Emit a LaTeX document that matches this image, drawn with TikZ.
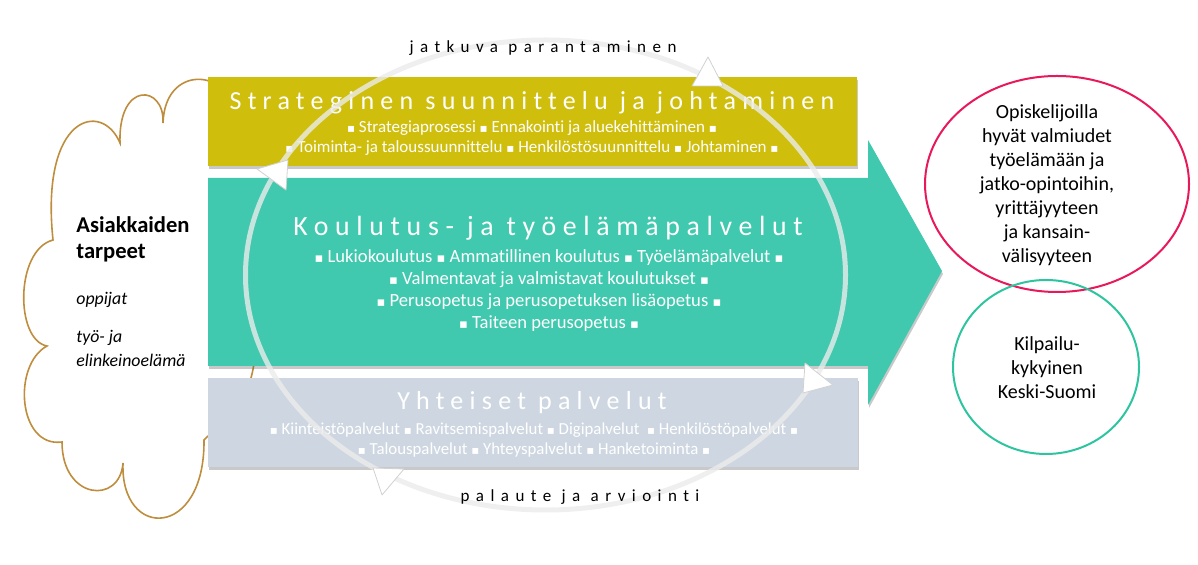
\documentclass[tikz,border=0pt]{standalone}
\usepackage{fontspec}
\usepackage{graphicx}
\setmainfont{Carlito}[Ligatures=NoCommon]
\newfontfamily\spacedfont{Carlito}[LetterSpace=24, Ligatures=NoCommon]
\newfontfamily\widefont{Carlito}[LetterSpace=38, Ligatures=NoCommon]
\newfontfamily\symfont{DejaVu Sans}
\usetikzlibrary{shadows}
\definecolor{stratyellow}{RGB}{208,190,12}
\definecolor{eduteal}{RGB}{64,201,174}
\definecolor{commongray}{RGB}{206,215,225}
\definecolor{cloudbrown}{RGB}{190,142,62}
\definecolor{goalpink}{RGB}{232,25,90}
\definecolor{goalteal}{RGB}{46,196,160}
\newcommand\sq{{\symfont\scalebox{0.7}{▪}}}
\tikzset{
  boxshadow/.style={drop shadow={shadow xshift=0.5pt, shadow yshift=-1.5pt, opacity=0.3, fill=black!70}},
  titletext/.style={text=white, font=\spacedfont\fontsize{13}{15}\selectfont, inner sep=0pt},
  itemtext/.style={text=white, align=center, inner sep=0pt},
  looptext/.style={text=black, font=\widefont\fontsize{8.5}{10}\selectfont, inner sep=0pt},
  ringline/.style={draw=white!92!black, opacity=0.8, line width=2.5pt},
  ringtip/.style={fill=white, draw=black!18, line width=0.4pt, line join=round},
  needtext/.style={anchor=west, inner sep=0pt, text=black},
  goaltext/.style={align=center, inner sep=0pt, text=black, font=\fontsize{10}{12}\selectfont},
}
\begin{document}
\begin{tikzpicture}[x=0.5pt, y=-0.5pt]
\useasboundingbox (0,0) rectangle (1198,565);

% cloud of customer needs
\path[fill=white, draw=cloudbrown, line width=0.8pt]
  (232,110) .. controls (228,70) and (165,64) .. (163,123)
  .. controls (165,85) and (118,80) .. (120,143)
  .. controls (102,100) and (40,115) .. (53,240)
  .. controls (15,250) and (15,340) .. (47,346)
  .. controls (12,365) and (18,448) .. (62,442)
  .. controls (62,500) and (120,505) .. (123,463)
  .. controls (120,540) and (205,540) .. (204,440)
  .. controls (240,405) and (256,395) .. (256,330)
  .. controls (262,260) and (272,200) .. (272,175)
  .. controls (272,150) and (250,120) .. cycle;

% process boxes
\path[fill=stratyellow, boxshadow] (208,77) rectangle (857,166);
\path[fill=eduteal, boxshadow] (208,178) -- (868,178) -- (868,140) -- (942,271)
  -- (868,405) -- (868,366) -- (208,366) -- cycle;
\path[fill=commongray, boxshadow] (208,378) rectangle (858,467);

% texts in boxes
\node[titletext] (strat) at (532,103) {Strateginen suunnittelu ja johtaminen};
\node[itemtext, font=\fontsize{8.5}{10}\selectfont] (stratitems) at (532,138)
  {\sq{} Strategiaprosessi \sq{} Ennakointi ja aluekehittäminen \sq\\
   \sq{} Toiminta- ja taloussuunnittelu \sq{} Henkilöstösuunnittelu \sq{} Johtaminen \sq};
\node[titletext, font=\spacedfont\fontsize{13.9}{15}\selectfont] (edu) at (548,228) {Koulutus- ja työelämäpalvelut};
\node[itemtext, font=\fontsize{9.3}{11}\selectfont] (eduitems) at (549,291)
  {\sq{} Lukiokoulutus \sq{} Ammatillinen koulutus \sq{} Työelämäpalvelut \sq\\
   \sq{} Valmentavat ja valmistavat koulutukset \sq\\
   \sq{} Perusopetus ja perusopetuksen lisäopetus \sq\\
   \sq{} Taiteen perusopetus \sq};
\node[titletext] (common) at (532,403) {Yhteiset palvelut};
\node[itemtext, font=\fontsize{8.4}{9.6}\selectfont] (commonitems) at (534,440)
  {\sq{} Kiinteistöpalvelut \sq{} Ravitsemispalvelut \sq{} Digipalvelut \ \sq{} Henkilöstöpalvelut \sq\\
   \sq{} Talouspalvelut \sq{} Yhteyspalvelut \sq{} Hanketoiminta \sq};

% improvement loop
\draw[ringline] (545.5,275) ellipse [x radius=300, y radius=235];
\filldraw[ringtip] (708,57) -- (692,86) -- (723,86) -- cycle;
\filldraw[ringtip] (257,169) -- (288,160) -- (286,190) -- cycle;
\filldraw[ringtip] (833,385) -- (805,363) -- (803,393) -- cycle;
\filldraw[ringtip] (382,495) -- (373,468) -- (404,469) -- cycle;
\node[looptext] (improve) at (543,48) {jatkuva parantaminen};
\node[looptext] (feedback) at (580,497) {palaute ja arviointi};

% customer needs text
\node[needtext, font=\bfseries\fontsize{11.3}{12}\selectfont] (needs1) at (76,225) {Asiakkaiden};
\node[needtext, font=\bfseries\fontsize{11.3}{12}\selectfont] (needs2) at (76,253) {tarpeet};
\node[needtext, font=\itshape\fontsize{8.9}{10}\selectfont] (learners) at (76,300) {oppijat};
\node[needtext, font=\itshape\fontsize{8.9}{10}\selectfont] (work1) at (76,338) {työ- ja};
\node[needtext, font=\itshape\fontsize{8.9}{10}\selectfont] (work2) at (76,360) {elinkeinoelämä};

% goals
\draw[goalpink, line width=1pt] (1057,184) ellipse [x radius=132, y radius=108];
\draw[goalteal, line width=1pt] (1046,367) ellipse [x radius=93, y radius=87];
\node[goaltext] (students) at (1047,185)
  {Opiskelijoilla\\hyvät valmiudet\\työelämään ja\\jatko-opintoihin,\\yrittäjyyteen\\ja kansain-\\välisyyteen};
\node[goaltext] (region) at (1047,368) {Kilpailu-\\kykyinen\\Keski-Suomi};
\end{tikzpicture}
\end{document}
